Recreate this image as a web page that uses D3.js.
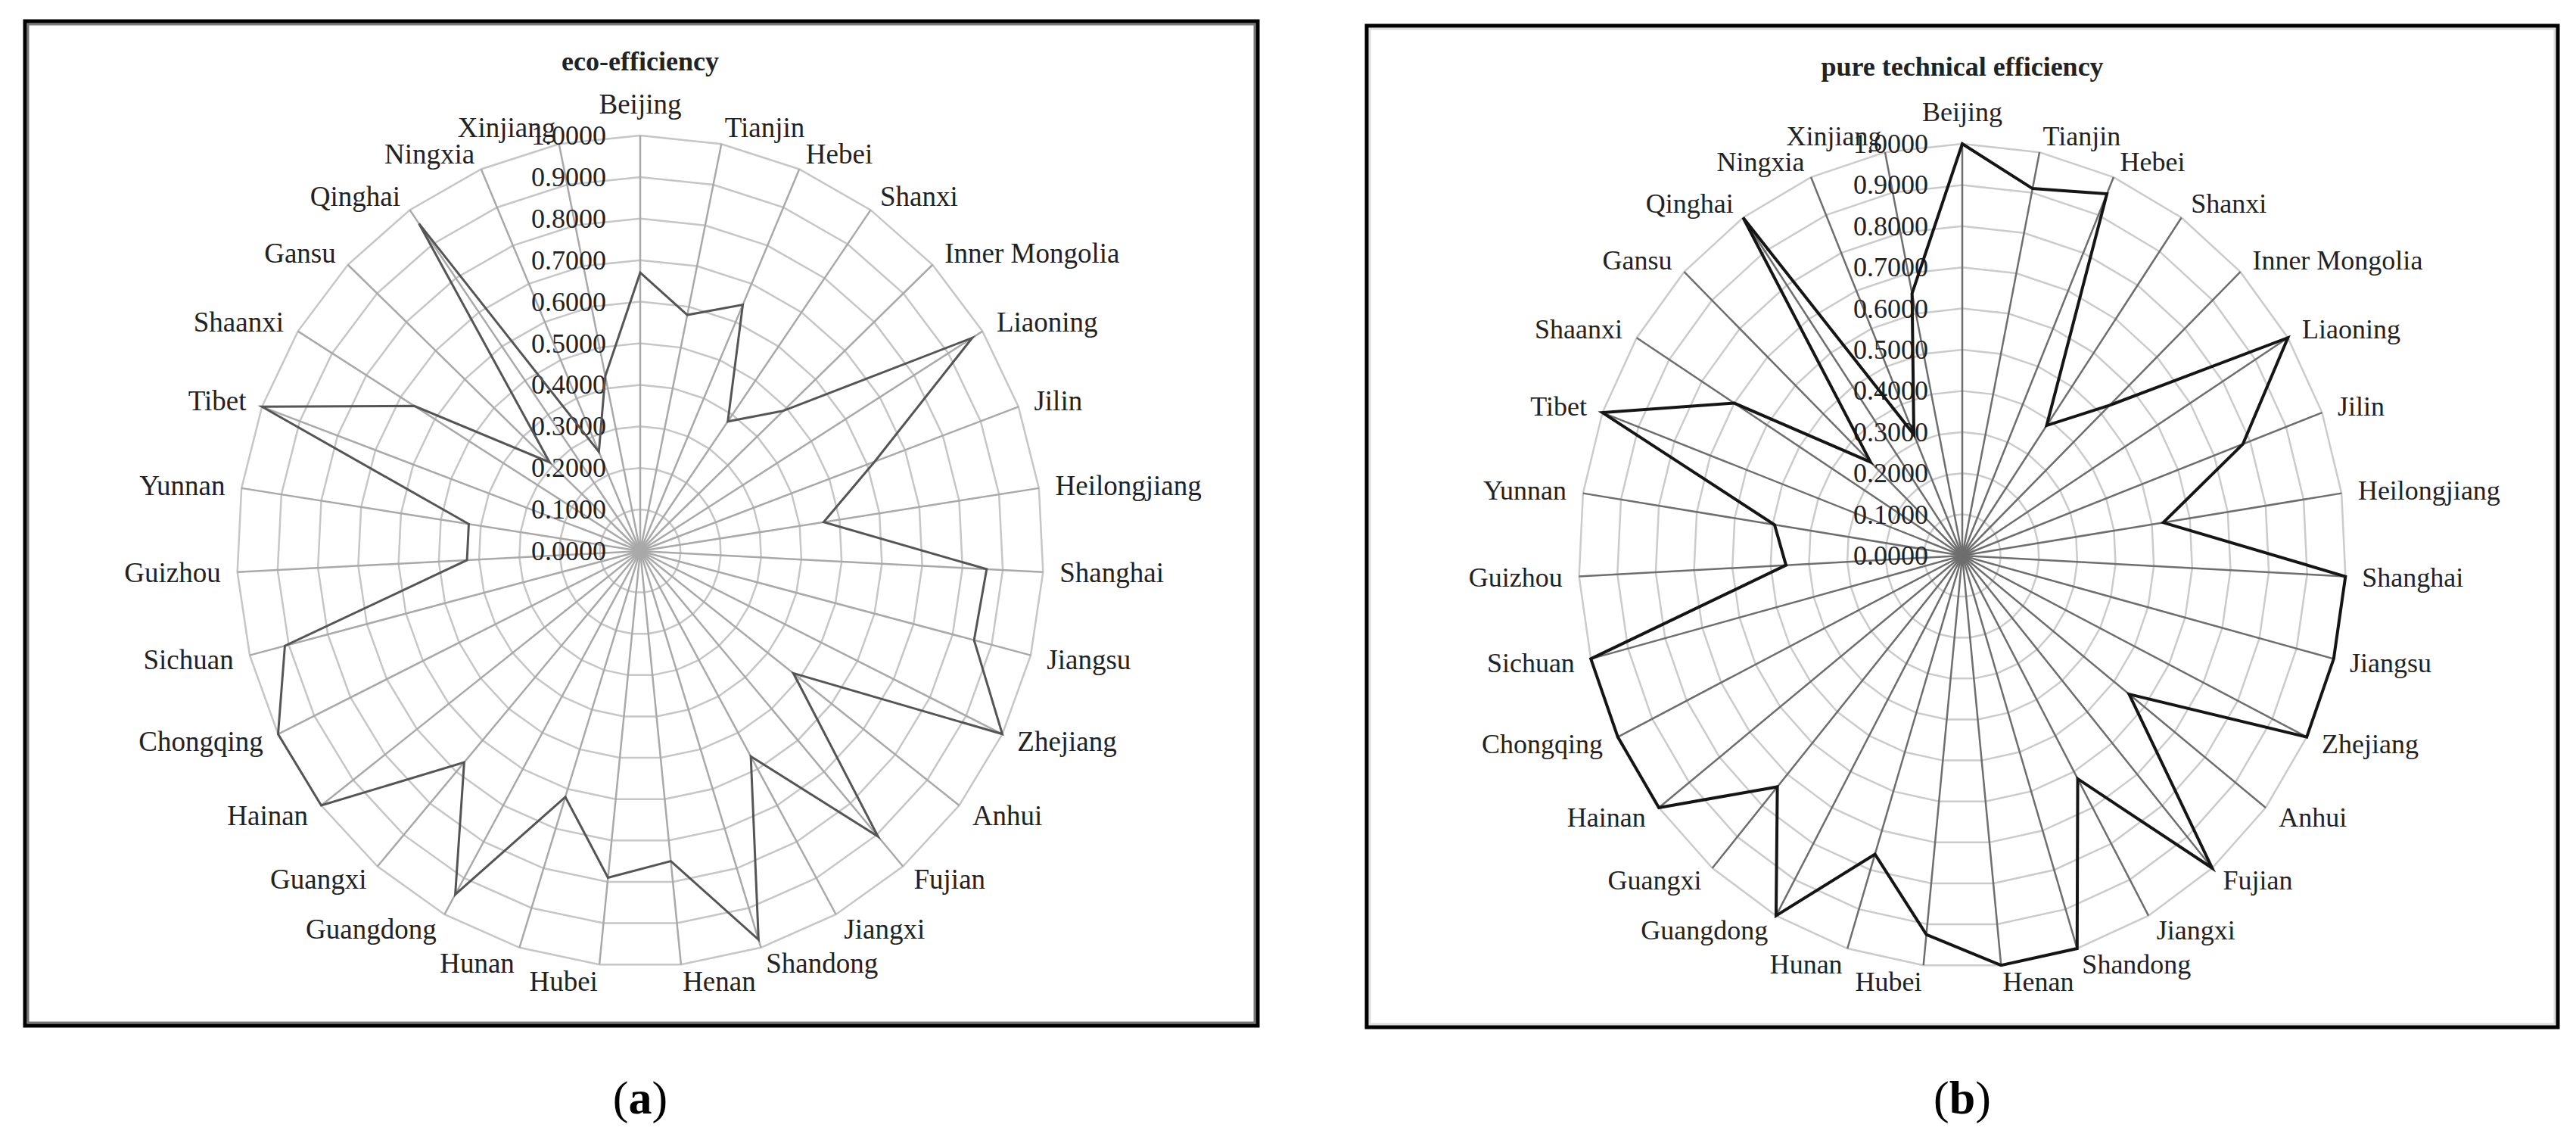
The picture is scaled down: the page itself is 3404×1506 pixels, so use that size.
<!DOCTYPE html>
<html>
<head>
<meta charset="utf-8">
<script src="https://cdn.jsdelivr.net/npm/d3@7"></script>
<style>
  body { margin: 0; background: #fff; }
  text { font-family: "Liberation Serif", "Times New Roman", serif; fill: #222; }
</style>
</head>
<body>
<svg id="chart" width="3404" height="1506"></svg>
<script>
const provinces = ["Beijing", "Tianjin", "Hebei", "Shanxi", "Inner Mongolia", "Liaoning", "Jilin",
  "Heilongjiang", "Shanghai", "Jiangsu", "Zhejiang", "Anhui", "Fujian", "Jiangxi", "Shandong",
  "Henan", "Hubei", "Hunan", "Guangdong", "Guangxi", "Hainan", "Chongqing", "Sichuan", "Guizhou",
  "Yunnan", "Tibet", "Shaanxi", "Gansu", "Qinghai", "Ningxia", "Xinjiang"];

const ecoEfficiency = [0.67, 0.58, 0.645, 0.38, 0.49, 0.97, 0.62, 0.46, 0.86, 0.855, 1.0, 0.48,
  0.905, 0.565, 0.98, 0.75, 0.79, 0.62, 0.945, 0.67, 1.0, 1.0, 0.91, 0.43, 0.43, 1.0, 0.66,
  0.31, 0.96, 0.26, 0.43];

const pureTechEfficiency = [1.0, 0.91, 0.956, 0.385, 0.53, 1.0, 0.78, 0.53, 1.0, 1.0, 1.0, 0.55,
  1.0, 0.62, 1.0, 1.0, 0.925, 0.76, 1.0, 0.74, 1.0, 1.0, 1.0, 0.46, 0.495, 1.0, 0.70,
  0.33, 1.0, 0.32, 0.65];

const tickValues = [0, 0.1, 0.2, 0.3, 0.4, 0.5, 0.6, 0.7, 0.8, 0.9, 1.0];

const panels = [
  { title: "eco-efficiency", values: ecoEfficiency, caption: "a",
    box: [33, 28, 1662, 1355], inner: "#777", cx: 846, cy: 728, rx: 533, ry: 549, titleY: 93,
    ring: "#c6c6c6", spoke: "#a9a9a9", line: "#555", lineWidth: 3, font: 37 },
  { title: "pure technical efficiency", values: pureTechEfficiency, caption: "b",
    box: [1806, 34, 3380, 1357], inner: "#ddd", cx: 2593, cy: 734, rx: 507, ry: 544, titleY: 100,
    ring: "#cbcbcb", spoke: "#6e6e6e", line: "#151515", lineWidth: 4, font: 36 }
];

const svg = d3.select("#chart");
const fmt = d3.format(".4f");
const angle = d3.scaleLinear().domain([0, provinces.length]).range([0, 2 * Math.PI]);

panels.forEach(p => {
  const g = svg.append("g");
  const [x0, y0, x1, y1] = p.box;

  // frame
  g.append("rect").attr("x", x0 + 4).attr("y", y0 + 4)
    .attr("width", x1 - x0 - 8).attr("height", y1 - y0 - 8)
    .attr("fill", "none").attr("stroke", p.inner).attr("stroke-width", 3);
  g.append("rect").attr("x", x0).attr("y", y0)
    .attr("width", x1 - x0).attr("height", y1 - y0)
    .attr("fill", "none").attr("stroke", "#000").attr("stroke-width", 5);

  const rX = d3.scaleLinear().domain([0, 1]).range([0, p.rx]);
  const rY = d3.scaleLinear().domain([0, 1]).range([0, p.ry]);
  const pt = (v, i) => [p.cx + rX(v) * Math.sin(angle(i)), p.cy - rY(v) * Math.cos(angle(i))];
  const closed = d3.line().curve(d3.curveLinearClosed);

  // rings
  g.append("g").selectAll("path").data(tickValues.slice(1)).join("path")
    .attr("d", t => closed(provinces.map((_, i) => pt(t, i))))
    .attr("fill", "none").attr("stroke", p.ring).attr("stroke-width", 2.5);

  // spokes
  g.append("g").selectAll("line").data(provinces).join("line")
    .attr("x1", p.cx).attr("y1", p.cy)
    .attr("x2", (d, i) => pt(1, i)[0]).attr("y2", (d, i) => pt(1, i)[1])
    .attr("stroke", p.spoke).attr("stroke-width", 2.5);

  // tick labels
  g.append("g").selectAll("text").data(tickValues).join("text")
    .attr("x", p.cx - 45).attr("y", t => pt(t, 0)[1])
    .attr("text-anchor", "end").attr("dominant-baseline", "central")
    .attr("font-size", 36).text(t => fmt(t));

  // series
  g.append("path")
    .attr("d", closed(p.values.map((v, i) => pt(v, i))))
    .attr("fill", "none").attr("stroke", p.line).attr("stroke-width", p.lineWidth)
    .attr("stroke-linejoin", "miter");

  // category labels
  g.append("g").selectAll("text").data(provinces).join("text")
    .each(function (d, i) {
      const a = angle(i), s = Math.sin(a), c = Math.cos(a);
      const [ex, ey] = pt(1, i);
      let x = ex + 22 * s, y = ey - 22 * c;
      let anchor = s > 0.05 ? "start" : s < -0.05 ? "end" : "middle";
      if (anchor === "middle") y -= 20 * Math.sign(c);
      d3.select(this).attr("x", x).attr("y", y)
        .attr("text-anchor", anchor).attr("dominant-baseline", "central")
        .attr("font-size", p.font).text(d);
    });

  // title
  g.append("text").attr("x", p.cx).attr("y", p.titleY)
    .attr("text-anchor", "middle").attr("font-weight", "bold")
    .attr("font-size", 36).text(p.title);

  // caption
  const cap = svg.append("text").attr("x", p.cx).attr("y", 1450)
    .attr("text-anchor", "middle").attr("dominant-baseline", "central")
    .attr("font-size", 62).style("fill", "#000");
  cap.append("tspan").text("(");
  cap.append("tspan").attr("font-weight", "bold").text(p.caption);
  cap.append("tspan").text(")");
});
</script>
</body>
</html>
